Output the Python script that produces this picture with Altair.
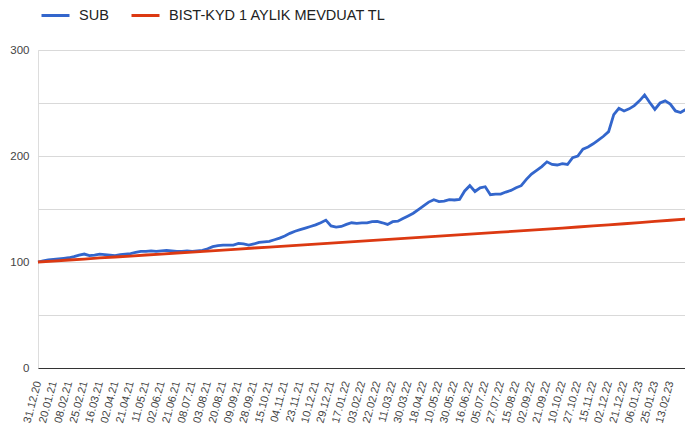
import altair as alt
import pandas as pd

# x categories (trading-day samples); labelled dates every third item
dates = [
    "31.12.20", "06.01.21", "13.01.21",
    "20.01.21", "26.01.21", "02.02.21",
    "08.02.21", "12.02.21", "19.02.21",
    "25.02.21", "03.03.21", "10.03.21",
    "16.03.21", "22.03.21", "29.03.21",
    "02.04.21", "08.04.21", "15.04.21",
    "21.04.21", "27.04.21", "04.05.21",
    "11.05.21", "19.05.21", "26.05.21",
    "02.06.21", "08.06.21", "15.06.21",
    "21.06.21", "25.06.21", "01.07.21",
    "08.07.21", "14.07.21", "27.07.21",
    "03.08.21", "09.08.21", "13.08.21",
    "20.08.21", "26.08.21", "02.09.21",
    "09.09.21", "15.09.21", "22.09.21",
    "28.09.21", "04.10.21", "08.10.21",
    "15.10.21", "21.10.21", "28.10.21",
    "04.11.21", "10.11.21", "17.11.21",
    "23.11.21", "29.11.21", "06.12.21",
    "10.12.21", "16.12.21", "23.12.21",
    "29.12.21", "04.01.22", "11.01.22",
    "17.01.22", "21.01.22", "28.01.22",
    "03.02.22", "09.02.22", "16.02.22",
    "22.02.22", "28.02.22", "07.03.22",
    "11.03.22", "17.03.22", "24.03.22",
    "30.03.22", "05.04.22", "12.04.22",
    "18.04.22", "22.04.22", "29.04.22",
    "10.05.22", "16.05.22", "23.05.22",
    "30.05.22", "03.06.22", "10.06.22",
    "16.06.22", "22.06.22", "29.06.22",
    "05.07.22", "13.07.22", "20.07.22",
    "27.07.22", "02.08.22", "09.08.22",
    "15.08.22", "19.08.22", "26.08.22",
    "02.09.22", "08.09.22", "15.09.22",
    "21.09.22", "27.09.22", "04.10.22",
    "10.10.22", "14.10.22", "21.10.22",
    "27.10.22", "02.11.22", "09.11.22",
    "15.11.22", "21.11.22", "28.11.22",
    "02.12.22", "08.12.22", "15.12.22",
    "21.12.22", "27.12.22", "02.01.23",
    "06.01.23", "12.01.23", "19.01.23",
    "25.01.23", "31.01.23", "07.02.23",
    "13.02.23", "17.02.23", "23.02.23", "01.03.23", "07.03.23", "10.03.23",
]

sub_values = [
    100, 101, 102,
    102.5, 103, 103.5,
    104, 105, 106.5,
    107.5, 106, 106.5,
    107.5, 107, 106.5,
    106, 107, 107.5,
    108, 109, 110,
    110, 110.5, 110,
    110.5, 111, 110.5,
    110, 110, 110.5,
    110, 110.5, 111,
    112.5, 114.5, 115.5,
    116, 116, 116,
    117.5, 117, 116,
    117, 118.5, 119,
    119.5, 121, 122.5,
    124.5, 127, 129,
    130.5, 132, 133.5,
    135, 137, 139.5,
    134, 133, 133.5,
    135.5, 137, 136.5,
    137, 137, 138,
    138.3, 137, 135.5,
    138, 138.5, 141,
    143.5, 146, 149.5,
    153, 156.5, 158.8,
    157, 157.5, 158.8,
    158.5, 159, 167,
    172, 166.5, 170,
    171, 163.5, 164,
    164, 166, 167.5,
    170, 172, 178,
    183, 186.5, 190,
    194.5, 192, 191.5,
    192.8, 192, 198.5,
    200, 206.5, 208.5,
    211.5, 215, 218.6,
    223, 239, 245,
    242.5, 244.5, 247.5,
    252, 257.5, 250.5,
    244, 250, 252,
    249, 242.5, 241, 244, 244.5, 245,
]

label_dates = [
    "31.12.20", "20.01.21", "08.02.21", "25.02.21", "16.03.21", "02.04.21",
    "21.04.21", "11.05.21", "02.06.21", "21.06.21", "08.07.21", "03.08.21",
    "20.08.21", "09.09.21", "28.09.21", "15.10.21", "04.11.21", "23.11.21",
    "10.12.21", "29.12.21", "17.01.22", "03.02.22", "22.02.22", "11.03.22",
    "30.03.22", "18.04.22", "10.05.22", "30.05.22", "16.06.22", "05.07.22",
    "27.07.22", "15.08.22", "02.09.22", "21.09.22", "10.10.22", "27.10.22",
    "15.11.22", "02.12.22", "21.12.22", "06.01.23", "25.01.23", "13.02.23",
]

bist_dates = label_dates + ["10.03.23"]
bist_values = [
    100, 100.9, 101.9, 102.8, 103.8, 104.7, 105.6, 106.6, 107.5, 108.5,
    109.4, 110.3, 111.3, 112.2, 113.2, 114.1, 115.0, 116.0, 116.9, 117.9,
    118.8, 119.7, 120.7, 121.6, 122.5, 123.5, 124.4, 125.3, 126.3, 127.2,
    128.2, 129.1, 130.1, 131.0, 132.0, 133.0, 134.0, 135.0, 136.1, 137.2,
    138.3, 139.4, 141.3,
]

series_names = ["SUB", "BIST-KYD 1 AYLIK MEVDUAT TL"]
series_colors = ["#3366cc", "#dc3912"]

df = pd.concat([
    pd.DataFrame({"date": dates, "series": series_names[0], "value": sub_values}),
    pd.DataFrame({"date": bist_dates, "series": series_names[1], "value": bist_values}),
], ignore_index=True)

FONT = "Liberation Sans"

chart = alt.Chart(df).mark_line(strokeWidth=2.8).encode(
    x=alt.X(
        "date:O",
        sort=dates,
        scale=alt.Scale(type="point", padding=0, range=[0, 658]),
        axis=alt.Axis(
            values=label_dates, title=None, ticks=False, grid=False,
            domain=True, domainColor="#333333", domainWidth=1,
            labelAngle=285, labelAlign="right", labelBaseline="middle",
            labelPadding=13, labelFontSize=11, labelColor="#444444",
            labelFont=FONT, labelOverlap=False,
        ),
    ),
    y=alt.Y(
        "value:Q",
        scale=alt.Scale(domain=[0, 300], nice=False, zero=True),
        axis=alt.Axis(
            values=[0, 50, 100, 150, 200, 250, 300], title=None, ticks=False,
            domain=False, grid=True, gridColor="#d9d9d9", gridWidth=1,
            labelExpr="datum.value % 100 == 0 ? datum.label : ''",
            labelPadding=9, labelFontSize=11.5, labelColor="#444444", labelFont=FONT,
        ),
    ),
    color=alt.Color(
        "series:N",
        scale=alt.Scale(domain=series_names, range=series_colors),
        sort=series_names,
        legend=alt.Legend(
            title=None, orient="none", legendX=2, legendY=-50,
            direction="horizontal", symbolType="stroke", symbolSize=784,
            symbolStrokeWidth=3, labelFontSize=14.5, labelFont=FONT,
            labelColor="#222222", labelOffset=8, columnPadding=16,
            labelLimit=0,
        ),
    ),
).properties(
    width=647,
    height=318,
    autosize=alt.AutoSizeParams(type="none"),
    padding={"left": 30, "top": 42, "right": 0, "bottom": 60},
).configure_view(stroke=None).configure(background="white")

chart.save("out.html", embed_options={"renderer": "svg", "actions": False})
